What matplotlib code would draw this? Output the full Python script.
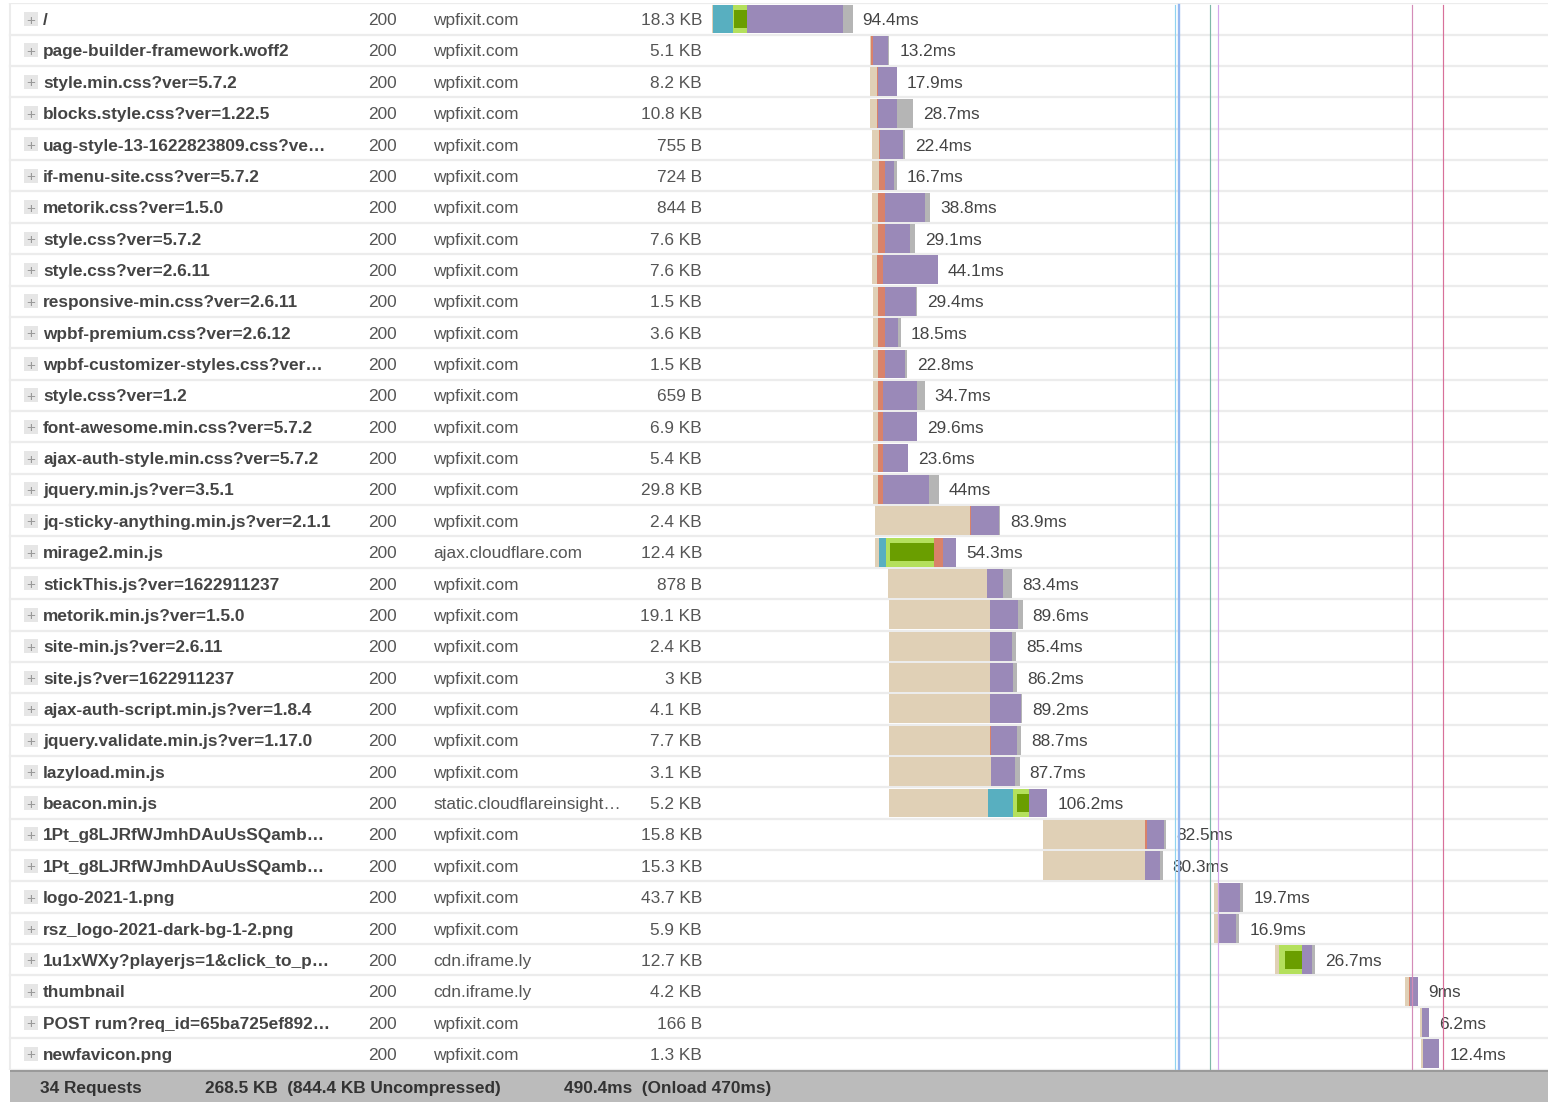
import numpy as np
import matplotlib.pyplot as plt
from matplotlib.transforms import blended_transform_factory
from matplotlib.patches import Rectangle

plt.rcParams['font.family'] = ['Liberation Sans', 'DejaVu Sans']

# リクエスト一覧
names = ["/", "page-builder-framework.woff2", "style.min.css?ver=5.7.2",
         "blocks.style.css?ver=1.22.5", "uag-style-13-1622823809.css?ve…",
         "if-menu-site.css?ver=5.7.2", "metorik.css?ver=1.5.0", "style.css?ver=5.7.2",
         "style.css?ver=2.6.11", "responsive-min.css?ver=2.6.11",
         "wpbf-premium.css?ver=2.6.12", "wpbf-customizer-styles.css?ver…",
         "style.css?ver=1.2", "font-awesome.min.css?ver=5.7.2",
         "ajax-auth-style.min.css?ver=5.7.2", "jquery.min.js?ver=3.5.1",
         "jq-sticky-anything.min.js?ver=2.1.1", "mirage2.min.js",
         "stickThis.js?ver=1622911237", "metorik.min.js?ver=1.5.0",
         "site-min.js?ver=2.6.11", "site.js?ver=1622911237",
         "ajax-auth-script.min.js?ver=1.8.4", "jquery.validate.min.js?ver=1.17.0",
         "lazyload.min.js", "beacon.min.js", "1Pt_g8LJRfWJmhDAuUsSQamb…",
         "1Pt_g8LJRfWJmhDAuUsSQamb…", "logo-2021-1.png", "rsz_logo-2021-dark-bg-1-2.png",
         "1u1xWXy?playerjs=1&click_to_p…", "thumbnail", "POST rum?req_id=65ba725ef892…",
         "newfavicon.png"]
status = [200] * 34
domains = ["wpfixit.com"] * 34
domains[17] = "ajax.cloudflare.com"
domains[25] = "static.cloudflareinsight…"
domains[30] = "cdn.iframe.ly"
domains[31] = "cdn.iframe.ly"
sizes = ["18.3 KB", "5.1 KB", "8.2 KB", "10.8 KB", "755 B", "724 B", "844 B", "7.6 KB",
         "7.6 KB", "1.5 KB", "3.6 KB", "1.5 KB", "659 B", "6.9 KB", "5.4 KB", "29.8 KB",
         "2.4 KB", "12.4 KB", "878 B", "19.1 KB", "2.4 KB", "3 KB", "4.1 KB", "7.7 KB",
         "3.1 KB", "5.2 KB", "15.8 KB", "15.3 KB", "43.7 KB", "5.9 KB", "12.7 KB", "4.2 KB",
         "166 B", "1.3 KB"]
durations = [94.4, 13.2, 17.9, 28.7, 22.4, 16.7, 38.8, 29.1, 44.1, 29.4, 18.5, 22.8,
             34.7, 29.6, 23.6, 44, 83.9, 54.3, 83.4, 89.6, 85.4, 86.2, 89.2, 88.7, 87.7,
             106.2, 82.5, 80.3, 19.7, 16.9, 26.7, 9, 6.2, 12.4]

# タイミング (ms)
start = [0, 105.8, 106.0, 106.0, 107.4, 107.4, 107.4, 107.4, 107.4, 108.1, 108.1, 108.1,
         108.1, 108.1, 108.1, 108.1, 109.4, 109.4, 118.1, 118.8, 118.8, 118.8, 118.8,
         118.8, 118.8, 118.8, 222.1, 222.1, 336.9, 336.9, 377.9, 465.1, 475.2, 475.8]
blocked = [1.0, 0.9, 4.7, 4.7, 4.7, 4.7, 4.0, 4.0, 3.4, 3.4, 3.4, 3.4, 3.4, 3.4, 3.4, 3.4,
           63.8, 2.7, 66.4, 67.8, 67.8, 67.8, 67.8, 67.8, 68.5, 66.4, 68.5, 68.5, 2.7,
           2.7, 2.7, 2.7, 1.0, 1.3]
dns = [12.8, 0, 0, 0, 0, 0, 0, 0, 0, 0, 0, 0, 0, 0, 0, 0, 0, 4.7, 0, 0, 0, 0, 0, 0, 0,
       16.8, 0, 0, 0, 0, 0, 0, 0, 0]
connect = [9.4, 0, 0, 0, 0, 0, 0, 0, 0, 0, 0, 0, 0, 0, 0, 0, 0, 32.2, 0, 0, 0, 0, 0, 0, 0,
           10.7, 0, 0, 0, 0, 15.4, 0, 0, 0]
ssl = [8.7, 0, 0, 0, 0, 0, 0, 0, 0, 0, 0, 0, 0, 0, 0, 0, 0, 29.5, 0, 0, 0, 0, 0, 0, 0,
       8.0, 0, 0, 0, 0, 11.4, 0, 0, 0]
send = [0, 1.2, 1.0, 1.0, 0.5, 4.0, 4.5, 4.5, 4.0, 4.5, 4.5, 4.5, 3.4, 3.4, 3.4, 3.4,
        0.7, 6.0, 0, 0, 0, 0, 0, 0.7, 0, 0, 1.3, 0, 0, 0, 0, 0.7, 0, 0]
wait = [64.4, 10.0, 12.2, 12.2, 15.4, 6.0, 27.0, 16.8, 36.7, 20.8, 8.8, 13.5, 22.8, 22.8,
        16.8, 30.6, 18.8, 8.7, 10.7, 18.8, 14.8, 15.4, 20.8, 17.5, 16.1, 12.3, 11.4,
        10.0, 14.8, 12.0, 6.7, 5.6, 5.2, 11.1]
receive = [6.8, 1.1, 0, 10.8, 1.8, 2.0, 3.3, 3.8, 0, 0.7, 1.8, 1.4, 5.1, 0, 0, 6.6, 0.6,
           0, 6.3, 3.0, 2.8, 3.0, 0.6, 2.7, 3.1, 0, 1.3, 1.8, 2.2, 2.2, 1.9, 0, 0, 0]

# イベント線 (ms)
events = [310.7, 313.4, 334.2, 339.6, 470, 490.4]
event_colors = ['#8fd3f0', '#96b8f0', '#7fb8a8', '#d4a8ec', '#d48cb8', '#d8709a']
event_widths = [1, 2, 1, 1, 1, 1]

W, H = 1548, 1102
px_per_ms = 1.49
x0 = 712
row_h = 31.36
top = 19 - row_h / 2
dy = 0.05  # 文字の縦位置の微調整

fig = plt.figure(figsize=(W / 100, H / 100), dpi=100)
n = len(names)
ax_bottom = 1 - (top + n * row_h) / H
ax = fig.add_axes([0, ax_bottom, 1, (n * row_h) / H])
ax.set_xlim(-x0 / px_per_ms, (W - x0) / px_per_ms)
ax.set_ylim(n - 0.5, -0.5)
ax.axis('off')

rows = np.arange(n)
tr = blended_transform_factory(ax.transAxes, ax.transData)

# 行の区切り
for b in np.arange(-0.5, n, 1.0):
    ax.plot([10 / W, 1], [b, b], color='#ececec', lw=1.6, transform=tr, zorder=1)
ax.plot([10 / W, 10 / W], [-0.5, n - 0.5], color='#ececec', lw=1.5, transform=tr, zorder=1)

# バー
segs = [(blocked, '#e0d0b6'), (dns, '#58afc0'), (connect, '#b4e05c'),
        (send, '#d9826a'), (wait, '#9a89b8'), (receive, '#b5b5b5')]
left = np.array(start, dtype=float)
for vals, col in segs:
    v = np.array(vals)
    ax.barh(rows, v, left=left, height=0.92, color=col, zorder=2)
    if vals is connect:
        conn_end = left + v
    left = left + v
ssl_arr = np.array(ssl)
ax.barh(rows, ssl_arr, left=conn_end - ssl_arr, height=0.58, color='#6a9e00', zorder=3)

for i in range(n):
    ax.annotate(f"{durations[i]:g}ms", (left[i], i + dy), xytext=(7.2, 0),
                textcoords='offset points', va='center', ha='left',
                fontsize=12.4, color='#444444', zorder=4)

# イベント線
for t, c, w in zip(events, event_colors, event_widths):
    ax.plot([t, t], [-0.45, n - 0.5], color=c, lw=w * 0.85, zorder=5)

# 左側の列
ax.scatter(np.full(n, 30.5 / W), rows, marker='s', s=9.6 ** 2, color='#e6e6e6',
           linewidths=0, transform=tr, zorder=2)
for i in range(n):
    y = i + dy
    ax.text(30.5 / W, y, '+', transform=tr, ha='center', va='center', fontsize=11,
            color='#999999', zorder=3)
    ax.text(43 / W, y, names[i], transform=tr, ha='left', va='center', fontsize=12.4,
            fontweight='bold', color='#444444')
    ax.text(368 / W, y, str(status[i]), transform=tr, ha='left', va='center',
            fontsize=12.4, color='#555555')
    ax.text(433 / W, y, domains[i], transform=tr, ha='left', va='center',
            fontsize=12.4, color='#555555')
    ax.text(702 / W, y, sizes[i], transform=tr, ha='right', va='center',
            fontsize=12.4, color='#555555')

# フッター
fig.add_artist(Rectangle((10 / W, 0), 1 - 10 / W, 31 / H, transform=fig.transFigure,
                         facecolor='#bbbbbb', edgecolor='none'))
fig.add_artist(Rectangle((10 / W, 30 / H), 1 - 10 / W, 2 / H, transform=fig.transFigure,
                         facecolor='#9a9a9a', edgecolor='none'))
footer_y = 14 / H
fig.text(40 / W, footer_y, "34 Requests", fontsize=12.4, fontweight='bold',
         color='#333333', va='center')
fig.text(205 / W, footer_y, "268.5 KB  (844.4 KB Uncompressed)", fontsize=12.4,
         fontweight='bold', color='#333333', va='center')
fig.text(564 / W, footer_y, "490.4ms  (Onload 470ms)", fontsize=12.4, fontweight='bold',
         color='#333333', va='center')

fig.savefig('out.png', dpi=100)
